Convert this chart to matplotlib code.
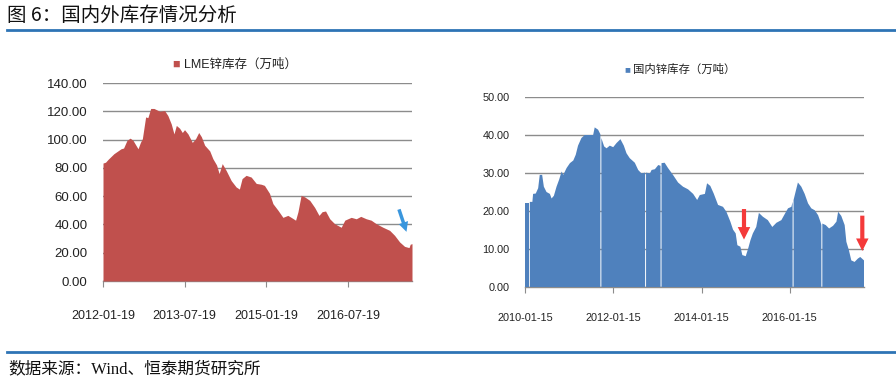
import matplotlib
matplotlib.use("Agg")
import matplotlib.pyplot as plt
import matplotlib.dates as mdates
import numpy as np
import pandas as pd

# ---------------- data ----------------
lme_dates = ["2012-01-19", "2012-02-05", "2012-02-22", "2012-04-01", "2012-05-19", "2012-06-05",
             "2012-06-28", "2012-07-19", "2012-08-07", "2012-09-10", "2012-09-26", "2012-10-09",
             "2012-10-31", "2012-11-15", "2012-12-04", "2012-12-26", "2013-02-03", "2013-03-07",
             "2013-03-29", "2013-04-21", "2013-05-09", "2013-05-25", "2013-06-16", "2013-07-04",
             "2013-07-19", "2013-08-11", "2013-09-09", "2013-10-01", "2013-10-22", "2013-11-09",
             "2013-12-01", "2014-01-04", "2014-01-25", "2014-02-19", "2014-03-08", "2014-03-29",
             "2014-04-25", "2014-05-28", "2014-06-30", "2014-07-22", "2014-08-09", "2014-09-05",
             "2014-10-09", "2014-11-12", "2014-12-16", "2015-01-06", "2015-02-09", "2015-03-04",
             "2015-04-07", "2015-05-10", "2015-06-12", "2015-07-04", "2015-08-03", "2015-08-19",
             "2015-09-09", "2015-10-04", "2015-11-06", "2015-12-09", "2016-01-07", "2016-01-28",
             "2016-02-20", "2016-03-19", "2016-04-21", "2016-06-04", "2016-06-28", "2016-07-19",
             "2016-08-10", "2016-09-13", "2016-10-13", "2016-11-19", "2016-12-22", "2017-01-25",
             "2017-03-11", "2017-04-25", "2017-05-28", "2017-07-01", "2017-08-03", "2017-09-02",
             "2017-09-10", "2017-09-22"]
lme_values = [83.4, 84.0, 86.0, 90.0, 93.5, 94.0,
              99.5, 101.0, 99.5, 93.5, 98.0, 100.6,
              116.0, 115.5, 122.0, 122.0, 120.0, 120.5,
              117.0, 111.0, 104.0, 110.0, 108.0, 105.0,
              107.0, 104.0, 98.0, 100.6, 105.0, 102.0,
              96.0, 92.0, 86.5, 82.0, 76.0, 83.0,
              78.0, 71.0, 66.5, 65.0, 72.4, 74.7,
              73.5, 69.0, 68.4, 67.6, 62.0, 54.7,
              50.0, 45.0, 46.4, 45.0, 43.0, 49.0,
              60.6, 59.4, 57.0, 52.0, 46.4, 49.0,
              49.5, 44.0, 40.5, 38.0, 43.0, 44.0,
              45.0, 44.0, 45.7, 44.0, 43.0, 40.5,
              38.0, 35.8, 32.3, 27.6, 24.5, 23.6,
              26.0, 26.4]

cn_dates = ["2010-01-15", "2010-02-16", "2010-02-20", "2010-02-24", "2010-03-17", "2010-03-23",
            "2010-04-14", "2010-05-04", "2010-05-17", "2010-06-06", "2010-06-20", "2010-07-12",
            "2010-08-09", "2010-08-23", "2010-09-11", "2010-10-03", "2010-10-25", "2010-11-14",
            "2010-11-28", "2010-12-25", "2011-01-22", "2011-02-19", "2011-03-11", "2011-03-30",
            "2011-04-27", "2011-05-24", "2011-07-05", "2011-08-02", "2011-08-15", "2011-09-12",
            "2011-10-01", "2011-10-05", "2011-10-09", "2011-11-01", "2011-11-21", "2011-12-18",
            "2012-01-15", "2012-02-12", "2012-03-15", "2012-04-12", "2012-05-04", "2012-05-31",
            "2012-07-12", "2012-08-09", "2012-09-05", "2012-10-05", "2012-10-09", "2012-10-13",
            "2012-11-14", "2012-11-28", "2012-12-25", "2013-01-22", "2013-02-10", "2013-02-14",
            "2013-02-18", "2013-03-16", "2013-04-13", "2013-05-24", "2013-07-05", "2013-08-15",
            "2013-09-26", "2013-11-07", "2013-12-10", "2014-01-01", "2014-02-12", "2014-03-02",
            "2014-03-29", "2014-04-26", "2014-06-01", "2014-07-12", "2014-08-09", "2014-09-11",
            "2014-10-03", "2014-10-25", "2014-11-08", "2014-12-03", "2014-12-19", "2015-01-16",
            "2015-02-05", "2015-02-24", "2015-03-16", "2015-04-13", "2015-05-05", "2015-06-07",
            "2015-07-18", "2015-08-24", "2015-09-27", "2015-11-07", "2015-12-05", "2016-01-01",
            "2016-01-29", "2016-02-08", "2016-02-12", "2016-02-16", "2016-03-04", "2016-03-23",
            "2016-04-20", "2016-05-18", "2016-06-15", "2016-07-12", "2016-08-09", "2016-09-06",
            "2016-09-25", "2016-10-03", "2016-10-07", "2016-10-11", "2016-11-08", "2016-12-06",
            "2017-01-08", "2017-02-05", "2017-02-19", "2017-03-17", "2017-04-14", "2017-04-28",
            "2017-05-19", "2017-06-08", "2017-07-05", "2017-08-02", "2017-08-21", "2017-09-21"]
cn_values = [22.2, 22.2, None, 22.4, 22.4, 24.5,
             24.6, 26.0, 29.5, 29.5, 26.4, 25.0,
             24.5, 23.3, 24.0, 26.4, 28.3, 30.4,
             29.5, 31.3, 32.6, 33.3, 34.8, 37.2,
             39.2, 40.0, 40.0, 40.0, 42.0, 41.4,
             40.2, None, 39.2, 37.0, 36.5, 37.2,
             36.8, 37.9, 38.9, 37.2, 35.2, 33.9,
             32.7, 30.8, 29.9, 30.1, None, 30.1,
             29.9, 30.8, 31.0, 32.1, 31.9, None,
             32.6, 32.7, 31.3, 29.5, 27.5, 26.4,
             25.7, 24.5, 22.9, 24.2, 24.5, 27.3,
             26.6, 24.6, 21.6, 21.1, 19.8, 17.2,
             15.1, 14.1, 11.0, 10.6, 8.4, 8.1,
             10.1, 12.3, 14.1, 15.8, 19.5, 18.5,
             17.6, 15.8, 16.9, 17.6, 19.2, 20.7,
             21.1, 22.4, None, 22.9, 25.1, 27.5,
             26.4, 24.5, 22.0, 20.7, 20.2, 18.9,
             17.2, 16.3, None, 16.7, 16.3, 15.4,
             16.1, 17.2, 19.8, 18.7, 16.3, 11.9,
             9.7, 7.0, 6.6, 7.5, 7.9, 7.0]

lme_ticks = ["2012-01-19", "2013-07-19", "2015-01-19", "2016-07-19"]
cn_ticks = ["2010-01-15", "2012-01-15", "2014-01-15", "2016-01-15"]
lme_yticks = [0, 20, 40, 60, 80, 100, 120, 140]
cn_yticks = [0, 10, 20, 30, 40, 50]

title_text = "图 6：国内外库存情况分析"
source_text = "数据来源：Wind、恒泰期货研究所"
lme_label = "LME锌库存（万吨）"
cn_label = "国内锌库存（万吨）"

# ---------------- style ----------------
plt.rcParams['font.family'] = ['Liberation Sans', 'Noto Sans CJK SC', 'DejaVu Sans']
RED = "#C0504D"
BLUE = "#4F81BD"
GRID = "#8C8C8C"
LINEBLUE = "#2E74B5"

W, H = 896, 385
fig = plt.figure(figsize=(W / 100, H / 100), dpi=100)

def px_axes(x0, x1, y_top, y_bot):
    return fig.add_axes([x0 / W, (H - y_bot) / H, (x1 - x0) / W, (y_bot - y_top) / H])

def style_axes(ax, yticks, ylim, xticks, xlim, fs_y, fs_x, xpad, ypad):
    ax.set_ylim(*ylim)
    ax.set_yticks(yticks)
    ax.set_yticklabels([f"{v:.2f}" for v in yticks], fontsize=fs_y, color="#222222")
    tdates = pd.to_datetime(xticks)
    ax.set_xticks(mdates.date2num(tdates))
    ax.set_xticklabels(xticks, fontsize=fs_x, color="#222222")
    ax.set_xlim(*xlim)
    ax.grid(axis='y', color=GRID, linewidth=1.0)
    ax.set_axisbelow(True)
    for s in ['top', 'right', 'left']:
        ax.spines[s].set_visible(False)
    ax.spines['bottom'].set_color(GRID)
    ax.spines['bottom'].set_linewidth(1.0)
    ax.tick_params(axis='y', length=0, pad=ypad)
    ax.tick_params(axis='x', length=4, color=GRID, pad=xpad)

# ---------- left: LME ----------
ax1 = px_axes(103, 412, 83, 281)
ld = mdates.date2num(pd.to_datetime(lme_dates))
lv = np.array(lme_values, dtype=float)
ax1.fill_between(ld, 0, lv, color=RED, linewidth=0, zorder=3)
style_axes(ax1, lme_yticks, (0, 140), lme_ticks, (ld[0], ld[-1]), 9.5, 9, 17, 11)
ax1.annotate("", xy=(0.985, 0.235), xytext=(0.955, 0.375), xycoords='axes fraction',
             arrowprops=dict(arrowstyle="simple,head_width=0.7,head_length=0.7,tail_width=0.25",
                             color="#3A96DD", lw=0), zorder=5)

# legend left
fig.text(172 / W, 1 - 65 / H, "■", color=RED, fontsize=9, ha='left', va='center')
fig.text(184 / W, 1 - 65 / H, lme_label, fontsize=9, ha='left', va='center', color="#222222")

# ---------- right: domestic ----------
ax2 = px_axes(525, 864, 97, 287)
cd = mdates.date2num(pd.to_datetime(cn_dates))
cv = np.array([np.nan if v is None else v for v in cn_values], dtype=float)
ax2.fill_between(cd, 0, cv, color=BLUE, linewidth=0, zorder=3)
style_axes(ax2, cn_yticks, (0, 50), cn_ticks, (cd[0], cd[-1]), 7.8, 7.8, 15, 11)
red_arrow = dict(arrowstyle="simple,head_width=0.9,head_length=0.9,tail_width=0.3",
                 color="#F43A3A", lw=0)
ax2.annotate("", xy=(0.646, 0.235), xytext=(0.646, 0.425), xycoords='axes fraction',
             arrowprops=red_arrow, zorder=5)
ax2.annotate("", xy=(0.995, 0.175), xytext=(0.995, 0.39), xycoords='axes fraction',
             arrowprops=red_arrow, zorder=5, annotation_clip=False)

fig.text(624 / W, 1 - 69 / H, "■", color=BLUE, fontsize=7, ha='left', va='center')
fig.text(633 / W, 1 - 69 / H, cn_label, fontsize=8.2, ha='left', va='center', color="#222222")

# ---------- header / footer ----------
fig.text(7 / W, 1 - 15 / H, title_text, fontsize=14, ha='left', va='center',
         family=['Noto Sans CJK SC', 'DejaVu Sans'], color="#111111")
fig.add_artist(plt.Line2D([7 / W, 1.0], [1 - 30 / H, 1 - 30 / H], color=LINEBLUE, lw=2))
fig.add_artist(plt.Line2D([7 / W, 1.0], [1 - 352 / H, 1 - 352 / H], color=LINEBLUE, lw=2))
fig.text(8 / W, 1 - 369 / H, source_text, fontsize=12, ha='left', va='center',
         family=['Liberation Serif', 'Noto Sans CJK SC'], color="#111111")

fig.savefig("out.png", dpi=100, facecolor="white")
